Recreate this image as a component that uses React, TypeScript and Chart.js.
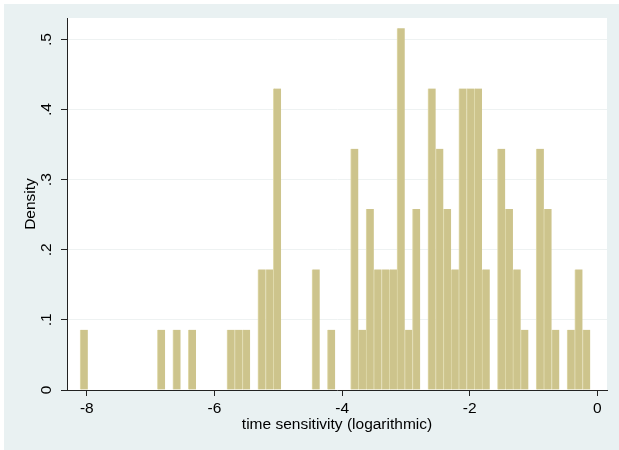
import React, { useEffect, useRef } from "react";
import { Chart, registerables } from "chart.js";

Chart.register(...registerables);

// Histogram bins (start of first bin, bin width) and observed counts per bin
const BIN_START = -8.105;
const BIN_WIDTH = 0.1211;
const COUNTS = [
  1, 0, 0, 0, 0, 0, 0, 0, 0, 0,
  1, 0, 1, 0, 1, 0, 0, 0, 0, 1,
  1, 1, 0, 2, 2, 5, 0, 0, 0, 0,
  2, 0, 1, 0, 0, 4, 1, 3, 2, 2,
  2, 6, 1, 3, 0, 5, 4, 3, 2, 5,
  5, 5, 2, 0, 4, 3, 2, 1, 0, 4,
  3, 1, 0, 1, 2, 1,
];
const X_TICKS = [-8, -6, -4, -2, 0];
const X_TICK_LABELS = ["-8", "-6", "-4", "-2", "0"];
const Y_TICKS = [0, 0.1, 0.2, 0.3, 0.4, 0.5];
const Y_TICK_LABELS = ["0", ".1", ".2", ".3", ".4", ".5"];
const X_TITLE = "time sensitivity (logarithmic)";
const Y_TITLE = "Density";

const FONT = "'Liberation Sans', Arial, sans-serif";

const bgPlugin = {
  id: "stataBg",
  beforeDraw(chart: any) {
    const { ctx, chartArea } = chart;
    ctx.save();
    ctx.fillStyle = "#e9f1f2";
    ctx.fillRect(4, 4, chart.width - 4, chart.height - 4);
    ctx.fillStyle = "#ffffff";
    ctx.fillRect(
      chartArea.left,
      chartArea.top,
      chartArea.right - chartArea.left,
      chartArea.bottom - chartArea.top
    );
    ctx.restore();
  },
};

export default function App() {
  const ref = useRef<HTMLCanvasElement | null>(null);

  useEffect(() => {
    document.body.style.margin = "0";
    const canvas = ref.current;
    if (!canvas) return;
    const n = COUNTS.reduce((a, b) => a + b, 0);
    const data = COUNTS.map((c, i) => ({
      x: BIN_START + BIN_WIDTH * (i + 0.5),
      y: c / (n * BIN_WIDTH),
    }));

    const chart = new Chart(canvas, {
      type: "bar",
      data: {
        datasets: [
          {
            data,
            backgroundColor: "#cdc48c",
            borderColor: "#e0daac",
            borderWidth: { left: 1, right: 0, top: 0, bottom: 0 },
            borderSkipped: false,
            barPercentage: 1,
            categoryPercentage: 1,
          } as any,
        ],
      },
      options: {
        animation: false,
        responsive: false,
        devicePixelRatio: 1,
        layout: { padding: { left: 10, top: 18, right: 12, bottom: 10 } },
        plugins: {
          legend: { display: false },
          tooltip: { enabled: false },
        },
        scales: {
          x: {
            type: "linear",
            min: -8.31,
            max: 0.15,
            offset: false,
            afterBuildTicks: (scale: any) => {
              scale.ticks = X_TICKS.map((v) => ({ value: v }));
            },
            afterFit: (scale: any) => {
              scale.height = 50;
            },
            ticks: {
              autoSkip: false,
              maxRotation: 0,
              minRotation: 0,
              padding: 3,
              color: "#000",
              font: { family: FONT, size: 15.5 },
              callback: (v: any) => {
                const i = X_TICKS.indexOf(Number(v));
                return i >= 0 ? X_TICK_LABELS[i] : "";
              },
            },
            grid: {
              offset: false,
              drawOnChartArea: false,
              tickLength: 6,
              tickColor: "#222",
            },
            border: { color: "#222", width: 1 },
            title: {
              display: true,
              text: X_TITLE,
              color: "#000",
              font: { family: FONT, size: 15.5 },
              padding: { top: 2, bottom: 6 },
            },
          },
          y: {
            type: "linear",
            min: 0,
            max: 0.5307,
            afterBuildTicks: (scale: any) => {
              scale.ticks = Y_TICKS.map((v) => ({ value: v }));
            },
            afterFit: (scale: any) => {
              scale.width = 57;
            },
            ticks: {
              autoSkip: false,
              minRotation: 90,
              maxRotation: 90,
              padding: 8,
              crossAlign: "center",
              color: "#000",
              font: { family: FONT, size: 15.5 },
              callback: (v: any) => {
                const i = Y_TICKS.findIndex((t) => Math.abs(t - Number(v)) < 1e-9);
                return i >= 0 ? Y_TICK_LABELS[i] : "";
              },
            },
            grid: {
              color: (ctx: any) => (ctx.tick && ctx.tick.value === 0 ? "rgba(0,0,0,0)" : "#eef2f2"),
              lineWidth: 1,
              tickLength: 6,
              tickColor: "#222",
            },
            border: { color: "#222", width: 1 },
            title: {
              display: true,
              text: Y_TITLE,
              color: "#000",
              font: { family: FONT, size: 15.5 },
              padding: { top: 11, bottom: 0 },
            },
          },
        },
      } as any,
      plugins: [bgPlugin],
    });
    return () => chart.destroy();
  }, []);

  return (
    <div style={{ width: 619, height: 450, position: "relative" }}>
      <canvas ref={ref} width={619} height={450} style={{ display: "block" }} />
    </div>
  );
}
